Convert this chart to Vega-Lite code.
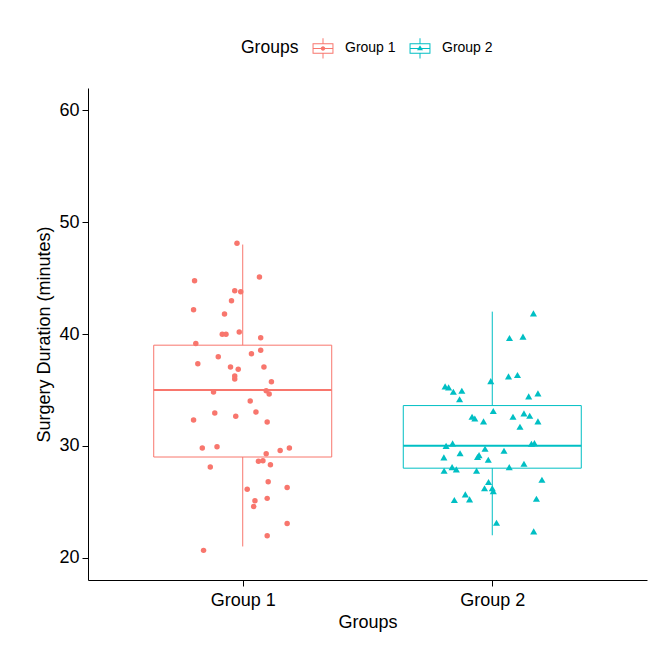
{
  "$schema": "https://vega.github.io/schema/vega-lite/v6.json",
  "width": 559,
  "height": 492,
  "autosize": {"type": "none"},
  "padding": {"left": 88, "top": 88, "right": 13, "bottom": 75},
  "background": "white",
  "config": {
    "view": {"stroke": null},
    "font": "Liberation Sans",
    "axis": {
      "grid": false,
      "domainColor": "black",
      "domainWidth": 1,
      "tickColor": "black",
      "tickWidth": 1,
      "tickSize": 6,
      "labelColor": "black",
      "labelFont": "Liberation Sans",
      "labelFontSize": 18,
      "titleFont": "Liberation Sans",
      "titleFontSize": 18,
      "titleFontWeight": "normal",
      "titleColor": "black"
    }
  },
  "datasets": {
    "stats": [
      {"g": "Group 1", "gx": 1, "lo": 21, "q1": 29, "med": 35, "q3": 39, "hi": 48},
      {"g": "Group 2", "gx": 2, "lo": 22, "q1": 28, "med": 30, "q3": 33.6, "hi": 42}
    ],
    "pts": [
      {"g": "Group 1", "x": 0.977, "y": 48.11},
      {"g": "Group 1", "x": 0.807, "y": 44.76},
      {"g": "Group 1", "x": 1.067, "y": 45.1},
      {"g": "Group 1", "x": 0.968, "y": 43.87},
      {"g": "Group 1", "x": 0.992, "y": 43.78},
      {"g": "Group 1", "x": 0.955, "y": 42.98},
      {"g": "Group 1", "x": 0.803, "y": 42.17},
      {"g": "Group 1", "x": 0.927, "y": 41.79},
      {"g": "Group 1", "x": 0.918, "y": 39.97},
      {"g": "Group 1", "x": 0.933, "y": 39.97},
      {"g": "Group 1", "x": 0.986, "y": 40.18},
      {"g": "Group 1", "x": 1.072, "y": 39.67},
      {"g": "Group 1", "x": 0.812, "y": 39.16},
      {"g": "Group 1", "x": 0.902, "y": 37.97},
      {"g": "Group 1", "x": 1.035, "y": 38.23},
      {"g": "Group 1", "x": 1.072, "y": 38.54},
      {"g": "Group 1", "x": 0.82, "y": 37.34},
      {"g": "Group 1", "x": 0.951, "y": 37.04},
      {"g": "Group 1", "x": 0.982, "y": 36.84},
      {"g": "Group 1", "x": 1.085, "y": 37.04},
      {"g": "Group 1", "x": 0.968, "y": 36.24},
      {"g": "Group 1", "x": 0.968, "y": 35.97},
      {"g": "Group 1", "x": 1.115, "y": 35.73},
      {"g": "Group 1", "x": 0.883, "y": 34.81},
      {"g": "Group 1", "x": 1.094, "y": 34.93},
      {"g": "Group 1", "x": 1.106, "y": 34.63},
      {"g": "Group 1", "x": 1.03, "y": 34.0},
      {"g": "Group 1", "x": 0.888, "y": 32.93},
      {"g": "Group 1", "x": 1.053, "y": 33.02},
      {"g": "Group 1", "x": 0.803, "y": 32.3},
      {"g": "Group 1", "x": 0.972, "y": 32.64},
      {"g": "Group 1", "x": 1.098, "y": 32.13},
      {"g": "Group 1", "x": 0.838, "y": 29.8},
      {"g": "Group 1", "x": 0.897, "y": 29.92},
      {"g": "Group 1", "x": 1.094, "y": 29.29},
      {"g": "Group 1", "x": 1.15, "y": 29.59},
      {"g": "Group 1", "x": 1.187, "y": 29.8},
      {"g": "Group 1", "x": 1.063, "y": 28.61},
      {"g": "Group 1", "x": 1.081, "y": 28.66},
      {"g": "Group 1", "x": 1.111, "y": 28.31},
      {"g": "Group 1", "x": 0.87, "y": 28.1},
      {"g": "Group 1", "x": 1.102, "y": 26.79},
      {"g": "Group 1", "x": 1.018, "y": 26.11},
      {"g": "Group 1", "x": 1.178, "y": 26.28},
      {"g": "Group 1", "x": 1.049, "y": 25.09},
      {"g": "Group 1", "x": 1.098, "y": 25.3},
      {"g": "Group 1", "x": 1.044, "y": 24.58},
      {"g": "Group 1", "x": 1.178, "y": 23.06},
      {"g": "Group 1", "x": 1.098, "y": 21.96},
      {"g": "Group 1", "x": 0.843, "y": 20.65},
      {"g": "Group 2", "x": 2.165, "y": 41.85},
      {"g": "Group 2", "x": 2.069, "y": 39.64},
      {"g": "Group 2", "x": 2.123, "y": 39.76},
      {"g": "Group 2", "x": 1.994, "y": 35.79},
      {"g": "Group 2", "x": 2.065, "y": 36.21},
      {"g": "Group 2", "x": 2.101, "y": 36.33},
      {"g": "Group 2", "x": 1.811, "y": 35.32},
      {"g": "Group 2", "x": 1.825, "y": 35.23},
      {"g": "Group 2", "x": 1.844, "y": 34.84},
      {"g": "Group 2", "x": 1.878, "y": 34.93},
      {"g": "Group 2", "x": 1.869, "y": 34.16},
      {"g": "Group 2", "x": 2.146, "y": 34.42},
      {"g": "Group 2", "x": 2.183, "y": 34.69},
      {"g": "Group 2", "x": 2.004, "y": 33.11},
      {"g": "Group 2", "x": 1.919, "y": 32.6},
      {"g": "Group 2", "x": 1.93, "y": 32.44},
      {"g": "Group 2", "x": 2.083, "y": 32.6},
      {"g": "Group 2", "x": 2.127, "y": 32.9},
      {"g": "Group 2", "x": 2.15, "y": 32.69},
      {"g": "Group 2", "x": 1.965, "y": 32.19},
      {"g": "Group 2", "x": 2.183, "y": 32.19},
      {"g": "Group 2", "x": 2.111, "y": 31.71},
      {"g": "Group 2", "x": 1.815, "y": 30.0},
      {"g": "Group 2", "x": 1.841, "y": 30.22},
      {"g": "Group 2", "x": 2.157, "y": 30.18},
      {"g": "Group 2", "x": 2.169, "y": 30.24},
      {"g": "Group 2", "x": 1.871, "y": 29.33},
      {"g": "Group 2", "x": 1.971, "y": 29.74},
      {"g": "Group 2", "x": 2.047, "y": 29.56},
      {"g": "Group 2", "x": 1.806, "y": 28.97},
      {"g": "Group 2", "x": 1.941, "y": 29.0},
      {"g": "Group 2", "x": 1.947, "y": 29.17},
      {"g": "Group 2", "x": 1.984, "y": 28.75},
      {"g": "Group 2", "x": 1.839, "y": 28.1},
      {"g": "Group 2", "x": 1.856, "y": 27.89},
      {"g": "Group 2", "x": 1.807, "y": 27.77},
      {"g": "Group 2", "x": 1.937, "y": 27.77},
      {"g": "Group 2", "x": 2.068, "y": 28.1},
      {"g": "Group 2", "x": 2.127, "y": 28.4},
      {"g": "Group 2", "x": 2.199, "y": 26.96},
      {"g": "Group 2", "x": 1.985, "y": 26.76},
      {"g": "Group 2", "x": 1.969, "y": 26.2},
      {"g": "Group 2", "x": 2.0, "y": 26.2},
      {"g": "Group 2", "x": 2.004, "y": 25.95},
      {"g": "Group 2", "x": 1.892, "y": 25.66},
      {"g": "Group 2", "x": 1.909, "y": 25.21},
      {"g": "Group 2", "x": 1.848, "y": 25.15},
      {"g": "Group 2", "x": 2.177, "y": 25.27},
      {"g": "Group 2", "x": 2.017, "y": 23.12},
      {"g": "Group 2", "x": 2.166, "y": 22.35}
    ]
  },
  "layer": [
    {
      "data": {"name": "stats"},
      "mark": {"type": "rule", "strokeWidth": 1},
      "encoding": {
        "x": {"field": "gx", "type": "quantitative", "scale": {"domain": [0.4, 2.6], "nice": false, "zero": false},
              "axis": {"values": [1, 2], "labelExpr": "datum.value == 1 ? 'Group 1' : 'Group 2'", "title": "Groups", "labelPadding": 5, "titlePadding": 4}},
        "y": {"field": "hi", "type": "quantitative", "scale": {"domain": [18, 62], "nice": false, "zero": false},
              "axis": {"values": [20, 30, 40, 50, 60], "title": "Surgery Duration (minutes)", "labelPadding": 3, "titlePadding": 5}},
        "y2": {"field": "q3"},
        "color": {"field": "g", "type": "nominal", "scale": {"domain": ["Group 1", "Group 2"], "range": ["#F8766D", "#00BFC4"]},
          "legend": {
            "orient": "none", "legendX": 153, "legendY": -51, "direction": "horizontal",
            "title": "Groups", "titleOrient": "left", "titleFontSize": 17.5, "titleFontWeight": "normal", "titleColor": "black", "titleFont": "Liberation Sans",
            "titlePadding": 13, "labelFontSize": 14, "labelColor": "black", "labelFont": "Liberation Sans",
            "symbolSize": 484, "symbolStrokeWidth": 0, "symbolOpacity": 1, "labelOffset": 11, "columnPadding": 13,
            "encode": {
              "symbols": {
                "update": {
                  "shape": {"signal": "datum.value === 'Group 1' ? 'M-0.95,-0.48L0.95,-0.48L0.95,0.48L-0.95,0.48ZM-0.86,-0.39L-0.86,0.39L0.86,0.39L0.86,-0.39ZM-0.045,-0.92L0.045,-0.92L0.045,-0.48L-0.045,-0.48ZM-0.045,0.48L0.045,0.48L0.045,0.92L-0.045,0.92ZM-0.86,-0.045L0.86,-0.045L0.86,0.045L-0.86,0.045ZM-0.2,0A0.2,0.2,0,1,1,0.2,0A0.2,0.2,0,1,1,-0.2,0Z' : 'M-0.95,-0.48L0.95,-0.48L0.95,0.48L-0.95,0.48ZM-0.86,-0.39L-0.86,0.39L0.86,0.39L0.86,-0.39ZM-0.045,-0.92L0.045,-0.92L0.045,-0.48L-0.045,-0.48ZM-0.045,0.48L0.045,0.48L0.045,0.92L-0.045,0.92ZM-0.86,-0.045L0.86,-0.045L0.86,0.045L-0.86,0.045ZM0,-0.28L0.27,0.17L-0.27,0.17Z'"},
                  "fill": {"scale": "color", "field": "value"},
                  "stroke": {"value": "transparent"},
                  "opacity": {"value": 1}
                }
              }
            }
          }
        }
      }
    },
    {
      "data": {"name": "stats"},
      "mark": {"type": "rule", "strokeWidth": 1},
      "encoding": {
        "x": {"field": "gx", "type": "quantitative"},
        "y": {"field": "q1", "type": "quantitative"},
        "y2": {"field": "lo"},
        "color": {"field": "g", "type": "nominal"}
      }
    },
    {
      "data": {"name": "stats"},
      "mark": {"type": "bar", "width": 178, "filled": false, "strokeWidth": 1, "opacity": 1},
      "encoding": {
        "x": {"field": "gx", "type": "quantitative"},
        "y": {"field": "q1", "type": "quantitative"},
        "y2": {"field": "q3"},
        "color": {"field": "g", "type": "nominal"}
      }
    },
    {
      "data": {"name": "stats"},
      "mark": {"type": "tick", "orient": "horizontal", "size": 178, "thickness": 2, "opacity": 1},
      "encoding": {
        "x": {"field": "gx", "type": "quantitative"},
        "y": {"field": "med", "type": "quantitative"},
        "color": {"field": "g", "type": "nominal"}
      }
    },
    {
      "data": {"name": "pts"},
      "transform": [{"filter": "datum.g === 'Group 1'"}],
      "mark": {"type": "point", "filled": true, "opacity": 1, "shape": "circle", "size": 30},
      "encoding": {
        "x": {"field": "x", "type": "quantitative"},
        "y": {"field": "y", "type": "quantitative"},
        "color": {"field": "g", "type": "nominal"}
      }
    },
    {
      "data": {"name": "pts"},
      "transform": [{"filter": "datum.g === 'Group 2'"}],
      "mark": {"type": "point", "filled": true, "opacity": 1, "shape": "triangle-up", "size": 50},
      "encoding": {
        "x": {"field": "x", "type": "quantitative"},
        "y": {"field": "y", "type": "quantitative"},
        "color": {"field": "g", "type": "nominal"}
      }
    }
  ]
}
